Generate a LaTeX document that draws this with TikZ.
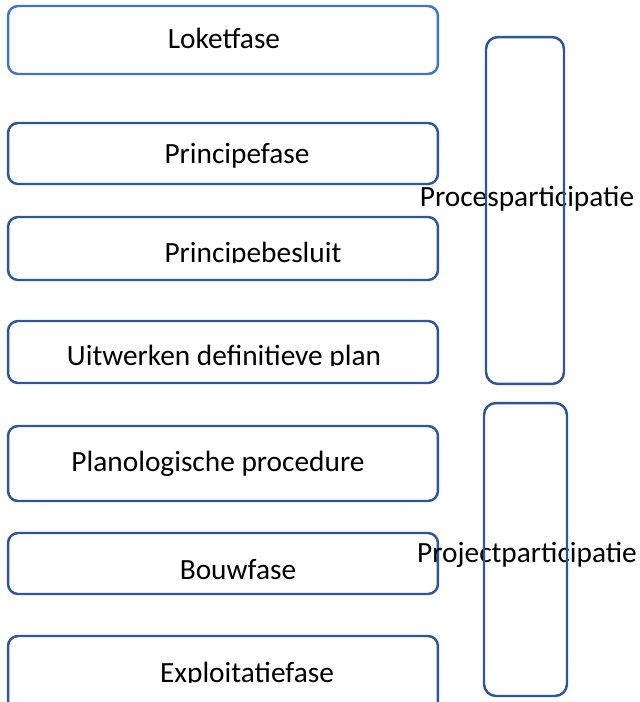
\documentclass[tikz,border=0pt]{standalone}
\usepackage{fontspec}
\setmainfont{Carlito}
\usepackage{tikz}

\begin{document}
\begin{tikzpicture}
		[x=0.02cm,y=-0.02cm,line cap=round,
		%Styles
		phase/.style={draw=phasecolor,line width=1.4pt,rounded corners=0.2cm,minimum width=8.6cm,inner sep=0pt},
		first phase/.style={phase,draw=firstcolor},
		participation/.style={draw=phasecolor,line width=1.4pt,rounded corners=0.24cm,inner sep=0pt},
		phase text/.style={anchor=base,inner sep=0pt,font=\fontsize{16.7}{20}\selectfont}
		]
		
		%Colors
		\definecolor{phasecolor}{HTML}{2F5597}	%box lines
		\definecolor{firstcolor}{HTML}{4472C4}	%first box
		
		\useasboundingbox (0,0) rectangle (639,702);
		\clip (0,0) rectangle (639,702);
		
		%The graphic
		\node[first phase,minimum height=1.36cm] (loket) at (223,40) {};
		\node[phase,minimum height=1.22cm] (principe) at (223,153.5) {};
		\node[phase,minimum height=1.26cm] (besluit) at (223,248.5) {};
		\node[phase,minimum height=1.24cm] (uitwerken) at (223,352) {};
		\node[phase,minimum height=1.5cm] (planologie) at (223,463.5) {};
		\node[phase,minimum height=1.22cm] (bouw) at (223,563.5) {};
		\node[phase,minimum height=1.52cm] (exploitatie) at (223,674) {};
		
		\node[phase text] (lokettext) at (224,49) {Loketfase};
		\node[phase text] (principetext) at (237,164) {Principefase};
		\begin{scope}
			\clip (8,217) rectangle (438,262);
			\node[phase text] (besluittext) at (253,262) {Principebesluit};
		\end{scope}
		\begin{scope}
			\clip (8,321) rectangle (438,365);
			\node[phase text] (uitwerkentext) at (224,365) {Uitwerken definitieve plan};
		\end{scope}
		\node[phase text] (planologietext) at (218,471) {Planologische procedure};
		\begin{scope}
			\clip (8,533) rectangle (438,579);
			\node[phase text] (bouwtext) at (238,579) {Bouwfase};
		\end{scope}
		\begin{scope}
			\clip (8,636) rectangle (438,682);
			\node[phase text] (exploitatietext) at (247,682) {Exploitatiefase};
		\end{scope}
		
		\node[phase text] (procestext) at (527,207) {Procesparticipatie};
		\node[phase text] (projecttext) at (527,562) {Projectparticipatie};
		
		\node[participation,minimum width=1.56cm,minimum height=6.94cm] (proces) at (525,210.5) {};
		\node[participation,minimum width=1.66cm,minimum height=5.86cm] (project) at (525.5,549.5) {};
	\end{tikzpicture}
\end{document}
